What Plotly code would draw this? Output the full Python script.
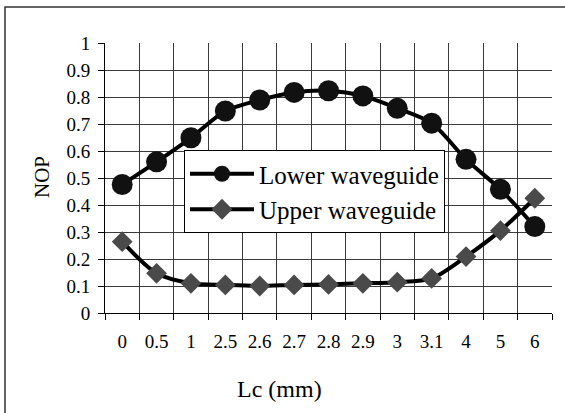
import plotly.graph_objects as go

categories = ["0", "0.5", "1", "2.5", "2.6", "2.7", "2.8", "2.9", "3", "3.1", "4", "5", "6"]
lower = [0.476, 0.560, 0.649, 0.748, 0.789, 0.817, 0.823, 0.804, 0.758, 0.703, 0.569, 0.458, 0.320]
upper = [0.264, 0.147, 0.110, 0.104, 0.100, 0.104, 0.106, 0.110, 0.114, 0.128, 0.209, 0.305, 0.425]
y_ticks = [0, 0.1, 0.2, 0.3, 0.4, 0.5, 0.6, 0.7, 0.8, 0.9, 1]
y_tick_text = ["0", "0.1", "0.2", "0.3", "0.4", "0.5", "0.6", "0.7", "0.8", "0.9", "1"]
y_grid = y_ticks[1:-1]

W, H = 565, 413
L, R, T, B = 105, 13, 43, 100
pw, ph = W - L - R, H - T - B

def px_x(p):
    return (p - L) / pw

def px_y(p):
    return (H - B - p) / ph

FONT = "Liberation Serif"
CLEAR = "rgba(0,0,0,0)"
GRID = "#3a3a3a"
n = len(categories)
x_grid = [i - 0.5 for i in range(1, n)]

fig = go.Figure()
fig.add_trace(go.Scatter(x=[], y=[], xaxis="x2", yaxis="y2", showlegend=False, hoverinfo="skip"))
fig.add_trace(go.Scatter(
    x=categories, y=lower, name="Lower waveguide", mode="lines+markers",
    line=dict(color="black", width=4, shape="spline", smoothing=0.8),
    marker=dict(symbol="circle", size=21, color="#111111", line=dict(width=0)),
))
fig.add_trace(go.Scatter(
    x=categories, y=upper, name="Upper waveguide", mode="lines+markers",
    line=dict(color="black", width=4, shape="spline", smoothing=0.8),
    marker=dict(symbol="diamond", size=16, color="#4a4a4a", line=dict(width=0)),
))

no_minor = dict(showgrid=False, ticks="")

fig.update_layout(
    template="none",
    width=W, height=H,
    margin=dict(l=L, r=R, t=T, b=B),
    paper_bgcolor="white", plot_bgcolor="white",
    font=dict(family=FONT, color="black", size=19),
    showlegend=True,
    hovermode=False,
    legend=dict(
        x=px_x(184), y=px_y(150), xanchor="left", yanchor="top",
        bgcolor="white", bordercolor="black", borderwidth=1,
        font=dict(family=FONT, size=25, color="black"),
        itemwidth=64, tracegroupgap=0,
    ),
    xaxis=dict(
        type="category", categoryorder="array", categoryarray=categories,
        range=[-0.5, n - 0.5],
        tickson="boundaries", ticks="outside", ticklen=6, tickcolor="black",
        showgrid=False, gridcolor=CLEAR, mirror=False, minor=no_minor,
        showline=True, linecolor="black", linewidth=1,
        tickfont=dict(family=FONT, size=19, color="black"), ticklabelstandoff=11,
        zeroline=False, zerolinecolor=CLEAR, showspikes=False,
    ),
    yaxis=dict(
        range=[0, 1], tickvals=y_ticks, ticktext=y_tick_text,
        ticks="outside", ticklen=6, tickcolor="black",
        showgrid=False, gridcolor=CLEAR, mirror=False, minor=no_minor,
        showline=True, linecolor="black", linewidth=1,
        tickfont=dict(family=FONT, size=19, color="black"), ticklabelstandoff=4,
        zeroline=False, zerolinecolor=CLEAR, showspikes=False,
    ),
    xaxis2=dict(
        overlaying="x", anchor="y2", side="bottom", range=[-0.5, n - 0.5], tickvals=x_grid,
        showticklabels=False, ticks="", tickcolor=CLEAR, showgrid=True, gridcolor=GRID,
        gridwidth=1, showline=False, linecolor=CLEAR, zeroline=False, zerolinecolor=CLEAR,
        mirror=False, minor=no_minor, showspikes=False,
    ),
    yaxis2=dict(
        overlaying="y", anchor="x2", side="left", range=[0, 1], tickvals=y_grid,
        showticklabels=False, ticks="", tickcolor=CLEAR, showgrid=True, gridcolor=GRID,
        gridwidth=1, showline=False, linecolor=CLEAR, zeroline=False, zerolinecolor=CLEAR,
        mirror=False, minor=no_minor, showspikes=False,
    ),
    annotations=[
        dict(text="NOP", x=px_x(42), y=px_y(177), xref="paper", yref="paper",
             showarrow=False, textangle=-90, font=dict(family=FONT, size=21),
             xanchor="center", yanchor="middle"),
        dict(text="Lc (mm)", x=px_x(279), y=px_y(389), xref="paper", yref="paper",
             showarrow=False, font=dict(family=FONT, size=24),
             xanchor="center", yanchor="middle"),
    ],
    shapes=[
        dict(type="rect", xref="paper", yref="paper",
             x0=px_x(5), x1=px_x(575), y0=px_y(425), y1=px_y(7),
             line=dict(color="#333333", width=1.5), fillcolor=CLEAR,
             layer="below"),
    ],
)

fig.write_html(
    "out.html",
    config={"displayModeBar": False},
    post_script="document.body.style.margin='0';document.body.style.overflow='hidden';",
)
